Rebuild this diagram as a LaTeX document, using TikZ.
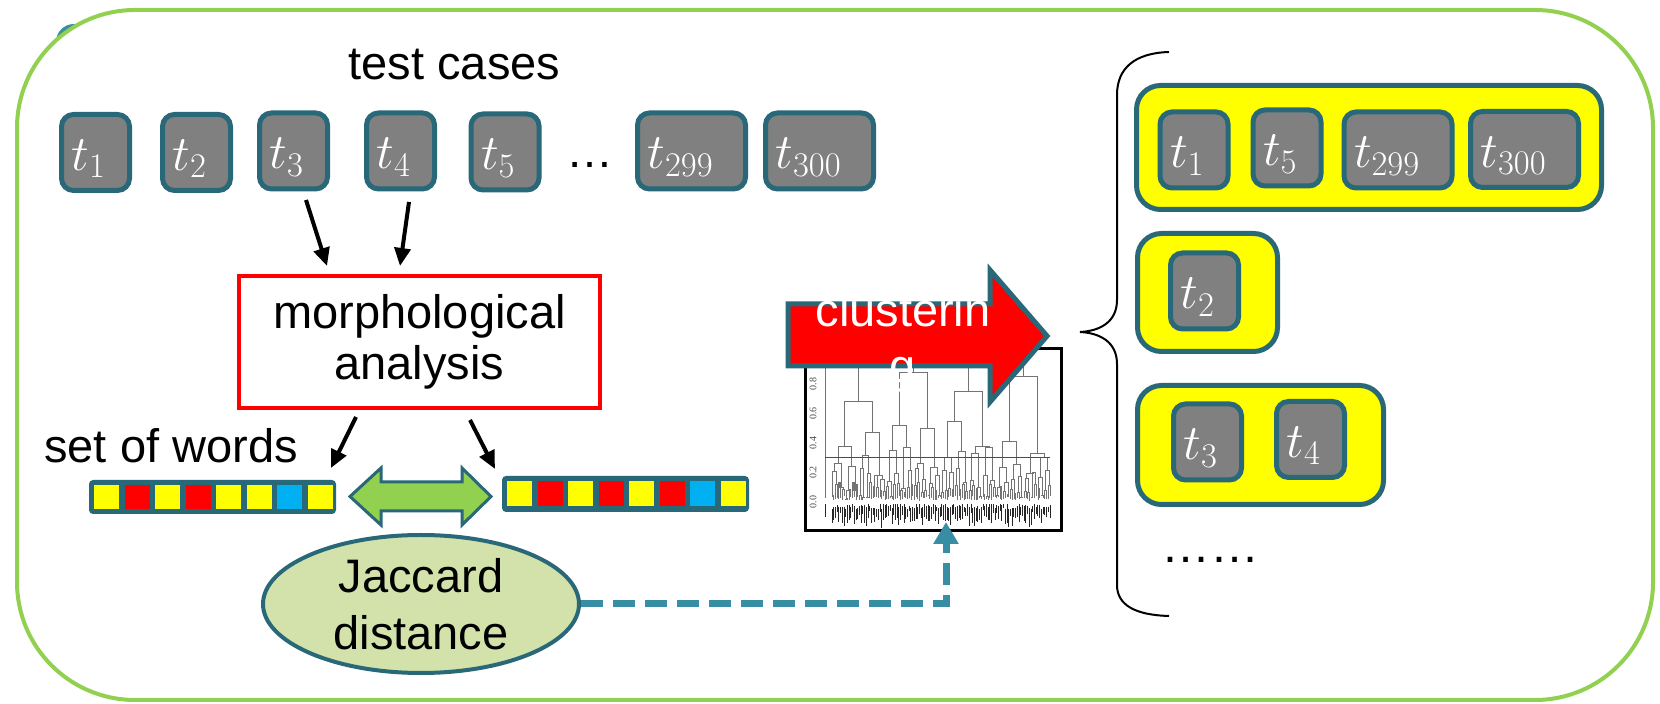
\documentclass[tikz,border=0pt]{standalone}
\usepackage[no-math]{fontspec}
\setmainfont{Liberation Sans}
\newfontfamily\serifR{Liberation Serif}
\usetikzlibrary{arrows.meta,shapes.geometric}
\definecolor{tborder}{RGB}{40,104,120}
\definecolor{cgray}{RGB}{128,128,128}
\definecolor{cgreen}{RGB}{146,208,80}
\definecolor{cyellow}{RGB}{255,255,0}
\definecolor{cred}{RGB}{255,0,0}
\definecolor{cblue}{RGB}{0,176,240}
\definecolor{cellip}{RGB}{211,226,170}
\definecolor{cdash}{RGB}{55,142,164}
\pgfmathdeclarefunction{dh}{2}{%
  \begingroup
  \pgfmathparse{(0.02*#1*#1-0.02*#1+0.02)+(0.05+0.06*#1)*frac(abs(sin(#1*71+#2*113+17)*97.3))}%
  \pgfmathsmuggle\pgfmathresult
  \endgroup}
\begin{document}
\begin{tikzpicture}[x=0.5pt,y=-0.5pt,
  bigf/.style={font=\fontsize{23.5}{27}\selectfont},
  tcase/.style={draw=tborder, fill=cgray, line width=2.5pt, rounded corners=6pt,
    minimum width=34pt, minimum height=38pt, inner xsep=5pt, inner ysep=2pt,
    text width=24pt, align=left, text height=22pt, text depth=4pt, text=white,
    font=\fontsize{24}{28}\selectfont},
  tcasew/.style={tcase, minimum width=54pt, text width=44pt},
  clus/.style={draw=tborder, fill=cyellow, line width=2.5pt, rounded corners=12pt, inner sep=0pt},
  blk/.style={line width=2pt, -{Triangle[length=9pt,width=8pt]}},
  wbar/.style={fill=tborder, rounded corners=2pt, minimum width=123.5pt, inner sep=0pt},
  dashc/.style={draw=cdash, line width=3.5pt, dash pattern=on 11pt off 5pt,
    -{Triangle[length=11pt,width=12pt]}},
  dgl/.style={draw=black!55, line width=0.45pt}]
\useasboundingbox (0,0) rectangle (1660,704);
% small blob and outer frame
\fill[cdash] (74,42) circle[radius=9pt];
\draw[cgreen, line width=2pt, fill=white, rounded corners=59pt] (17,10) rectangle (1653,700);

% title
\node[bigf, anchor=base, inner sep=0pt] (title) at (454.5,80) {test cases};

% top row of test cases
\node[tcase] (t1) at (95.5,152.5) {$t_{1}$};
\node[tcase] (t2) at (196.5,152.5) {$t_{2}$};
\node[tcase] (t3) at (293.5,151) {$t_{3}$};
\node[tcase] (t4) at (400.5,151) {$t_{4}$};
\node[tcase] (t5) at (505,152) {$t_{5}$};
\node[bigf, anchor=base, inner sep=0pt] (tdots) at (590,168) {…};
\node[tcasew] (t299) at (691.5,151) {$t_{299}$};
\node[tcasew] (t300) at (819.5,151) {$t_{300}$};

% morphological analysis
\node[draw=cred, line width=2pt, minimum width=180.5pt, minimum height=66pt, align=center,
  font=\fontsize{23.5}{25.5}\selectfont] (morph) at (419.5,342) {morphological\\analysis};
\coordinate (a1s) at (306,200); \coordinate (a1e) at (327,266);
\coordinate (a2s) at (409,202); \coordinate (a2e) at (400,266);
\draw[blk] (a1s) -- (a1e);
\draw[blk] (a2s) -- (a2e);

% set of words
\node[bigf, anchor=base, inner sep=0pt] (sow) at (171,463) {set of words};
\node[wbar, minimum height=17pt] (wl) at (212.5,497) {};
\foreach \c [count=\i from 0] in {cyellow,cred,cyellow,cred,cyellow,cyellow,cblue,cyellow}
  \fill[\c] ({94+30.5*\i},485) rectangle ++(25,24);
\node[wbar, minimum height=18pt] (wr) at (625.5,494) {};
\foreach \c [count=\i from 0] in {cyellow,cred,cyellow,cred,cyellow,cred,cblue,cyellow}
  \fill[\c] ({507+30.5*\i},481) rectangle ++(25,25);
\coordinate (a3s) at (356,417); \coordinate (a3e) at (331,468);
\coordinate (a4s) at (470,420); \coordinate (a4e) at (495,469);
\draw[blk] (a3s) -- (a3e);
\draw[blk] (a4s) -- (a4e);

% green double arrow
\draw[fill=cgreen, draw=tborder, line width=1.5pt, line join=miter]
  (350,496.5) -- (381,468) -- (381,482) -- (462,482) -- (462,468) -- (491,496.5)
  -- (462,525) -- (462,511) -- (381,511) -- (381,525) -- cycle;

% Jaccard distance
\node[ellipse, draw=tborder, fill=cellip, line width=2pt, minimum width=158pt,
  minimum height=69pt, inner sep=0pt] (jac) at (421,604) {};
\node[align=center, font=\fontsize{23.5}{28.5}\selectfont, inner sep=0pt] (jact) at (421,604.5) {Jaccard\\distance};

% dendrogram
\node[draw=black, fill=white, line width=1.5pt, minimum width=128pt, minimum height=91pt,
  inner sep=0pt] (dendro) at (933.5,439.5) {};
\begin{scope}[shift={(0,502)}, y=73.75pt]
  \foreach \L/\n in {1/63,2/31,3/15,4/7}{
    \foreach \k in {0,...,\n}{
      \pgfmathsetmacro\xa{832+((2*\k)*2^(\L-1)+(2^(\L-1)-1)/2)*1.7165}
      \pgfmathsetmacro\xb{832+((2*\k+1)*2^(\L-1)+(2^(\L-1)-1)/2)*1.7165}
      \pgfmathsetmacro\hp{dh(\L,\k)}
      \ifnum\L=1
        \pgfmathsetmacro\ha{0.01+0.03*frac(abs(sin(\k*37+3)*51.7))}%
        \pgfmathsetmacro\hb{0.01+0.03*frac(abs(sin(\k*59+11)*43.1))}%
      \else
        \pgfmathsetmacro\ha{dh(\L-1,2*\k)}%
        \pgfmathsetmacro\hb{dh(\L-1,2*\k+1)}%
      \fi
      \draw[dgl] (\xa,\ha) |- (\xb,\hp) -- (\xb,\hb);
    }
  }
  \foreach \k/\hp in {0/0.68,1/0.88,2/0.75,3/0.85}{
    \pgfmathsetmacro\xa{832+((2*\k)*16+7.5)*1.7165}
    \pgfmathsetmacro\xb{832+((2*\k+1)*16+7.5)*1.7165}
    \pgfmathsetmacro\ha{dh(4,2*\k)}
    \pgfmathsetmacro\hb{dh(4,2*\k+1)}
    \draw[dgl] (\xa,\ha) |- (\xb,\hp) -- (\xb,\hb);
  }
  \draw[dgl] (825,0.03) |- (858.6,0.91) -- (858.6,0.68);
  \draw[dgl] (913.5,0.88) |- (968.5,0.93) -- (968.5,0.75);
  \draw[dgl] (941,0.93) |- (1023.4,0.96) -- (1023.4,0.85);
  \draw[dgl] (841.8,0.91) |- (982.2,1.0) -- (982.2,0.96);
  \foreach \i in {0,...,127}{
    \pgfmathsetmacro\xl{832+\i*1.7165}
    \pgfmathsetmacro\ls{-0.01-0.04*frac(abs(sin(\i*29+5)*33.3))}
    \pgfmathsetmacro\ll{0.03+0.1*frac(abs(sin(\i*53+7)*71.1))}
    \draw[black!85, line width=0.5pt] (\xl,\ls) -- (\xl,\ls-\ll);
  }
  \draw[black!85, line width=0.5pt] (825,-0.015) -- (825,-0.1);
  \draw[red, line width=0.6pt] (825,0.3) -- (1050,0.3);
  \foreach \v [count=\j] in {0.0,0.2,0.4,0.6,0.8}
    \node[rotate=90, font=\serifR\fontsize{5}{5}\selectfont, inner sep=0pt, text=black!70] (tick\j) at (813,\v) {\v};
\end{scope}

% clustering arrow
\draw[fill=cred, draw=tborder, line width=2.5pt, line join=miter]
  (788,304) -- (990,304) -- (990,270) -- (1047,336) -- (990,402) -- (990,366) -- (788,366) -- cycle;
\node[align=center, text=white, font=\fontsize{23.5}{28}\selectfont, inner sep=0pt] (clt) at (903,342) {clusterin\\g};

% dashed connector Jaccard -> dendrogram
\coordinate (dtip) at (946,522);
\draw[dashc] (jac.east) -| (dtip);

% brace
\draw[line width=1pt] (1169,52) .. controls (1135,53) and (1117,68) .. (1117,95) -- (1117,300)
  .. controls (1117,322) and (1100,331) .. (1080,332)
  .. controls (1100,333) and (1117,342) .. (1117,364) -- (1117,585)
  .. controls (1117,605) and (1135,615) .. (1169,616);

% clusters
\node[clus, minimum width=232.5pt, minimum height=62pt] (c1) at (1369,147.5) {};
\node[tcase] (r1) at (1194,150) {$t_{1}$};
\node[tcase] (r5) at (1287,148) {$t_{5}$};
\node[tcasew] (r299) at (1398,150) {$t_{299}$};
\node[tcasew] (r300) at (1524.5,149.5) {$t_{300}$};
\node[clus, minimum width=70pt, minimum height=59pt] (c2) at (1207.5,292.5) {};
\node[tcase] (r2) at (1204.5,291) {$t_{2}$};
\node[clus, minimum width=123pt, minimum height=59.5pt] (c3) at (1260.5,445) {};
\node[tcase] (r3) at (1207.5,442) {$t_{3}$};
\node[tcase] (r4) at (1310.5,439.5) {$t_{4}$};
\node[font=\fontsize{24.5}{28}\selectfont, anchor=base, inner sep=0pt] (rdots) at (1210,563) {……};
\end{tikzpicture}
\end{document}
